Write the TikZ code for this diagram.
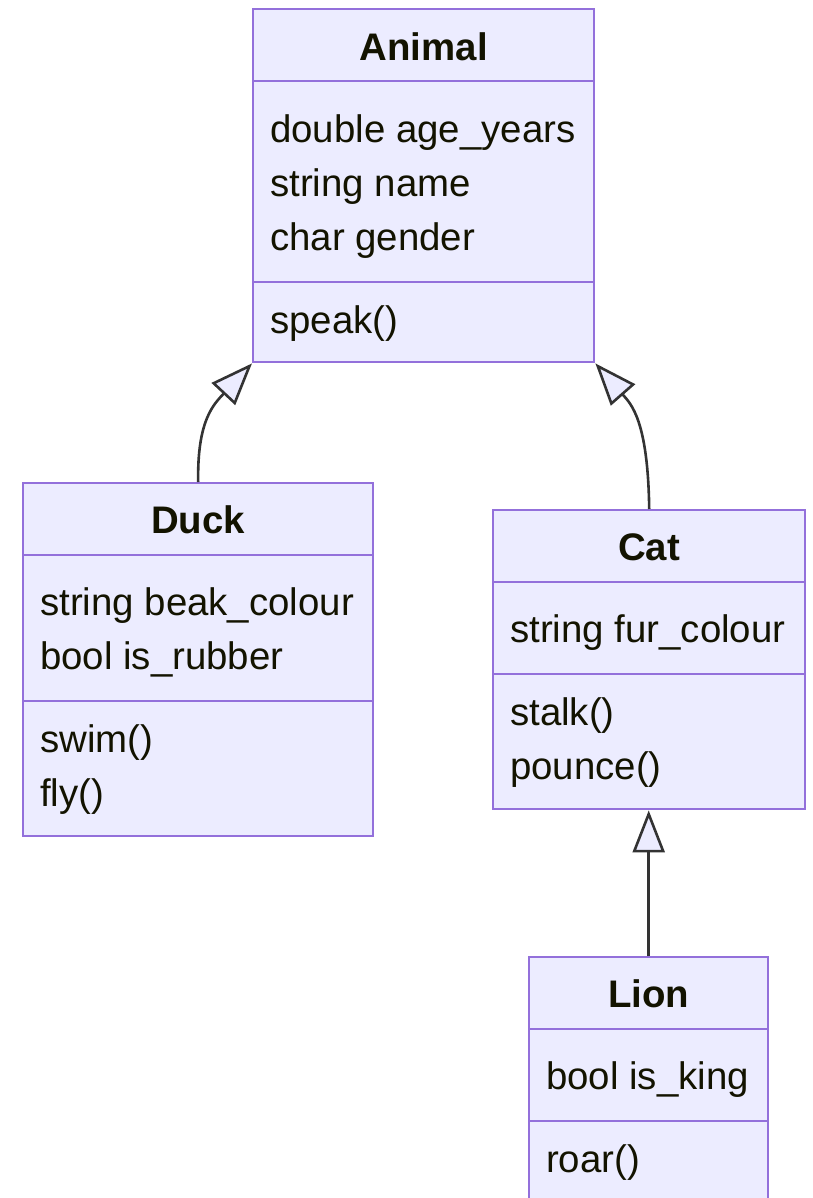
\documentclass[tikz,border=0pt]{standalone}
\usepackage{fontspec}
\setmainfont{Liberation Sans}
\usetikzlibrary{arrows.meta}

\definecolor{boxfill}{HTML}{ECECFF}
\definecolor{boxline}{HTML}{9370DB}
\definecolor{edgeline}{HTML}{333333}
\definecolor{textcol}{HTML}{131300}

\tikzset{
  classbox/.style={draw=boxline, fill=boxfill, line width=2.4pt, rectangle,
    inner sep=0pt, anchor=north west},
  divider/.style={draw=boxline, line width=2.4pt},
  classname/.style={anchor=base, inner sep=0pt, text=textcol,
    font=\fontsize{38.4}{46}\selectfont\bfseries},
  member/.style={anchor=base west, inner sep=0pt, text=textcol,
    font=\fontsize{38.4}{46}\selectfont},
  inherits/.style={draw=edgeline, line width=2.6pt,
    -{Triangle[length=42pt, width=32pt, fill=boxfill]}},
}

\begin{document}
\begin{tikzpicture}[x=1pt, y=-1pt]
\useasboundingbox (0,0) rectangle (812,1198);
\clip (0,0) rectangle (812,1198);

% Animal
\node[classbox, minimum width=341pt, minimum height=353pt] (animal) at (252,8) {};
\draw[divider] (animal.west |- 0,81) -- (animal.east |- 0,81);
\draw[divider] (animal.west |- 0,282) -- (animal.east |- 0,282);
\node[classname] (animal-name) at (animal.north |- 0,61) {Animal};
\node[member] (animal-age) at (270,143) {double age\_years};
\node[member] (animal-nm) at (270,197) {string name};
\node[member] (animal-gender) at (270,251) {char gender};
\node[member] (animal-speak) at (270,333) {speak()};

% Duck
\node[classbox, minimum width=350pt, minimum height=353pt] (duck) at (22,482) {};
\draw[divider] (duck.west |- 0,555) -- (duck.east |- 0,555);
\draw[divider] (duck.west |- 0,701) -- (duck.east |- 0,701);
\node[classname] (duck-name) at (duck.north |- 0,533) {Duck};
\node[member] (duck-beak) at (40,615) {string beak\_colour};
\node[member] (duck-rubber) at (40,669) {bool is\_rubber};
\node[member] (duck-swim) at (40,752) {swim()};
\node[member] (duck-fly) at (40,806) {fly()};

% Cat
\node[classbox, minimum width=312pt, minimum height=299pt] (cat) at (492,509) {};
\draw[divider] (cat.west |- 0,582) -- (cat.east |- 0,582);
\draw[divider] (cat.west |- 0,674) -- (cat.east |- 0,674);
\node[classname] (cat-name) at (cat.north |- 0,560) {Cat};
\node[member] (cat-fur) at (510,642) {string fur\_colour};
\node[member] (cat-stalk) at (510,725) {stalk()};
\node[member] (cat-pounce) at (510,779) {pounce()};

% Lion
\node[classbox, minimum width=239pt, minimum height=244pt] (lion) at (528,956) {};
\draw[divider] (lion.west |- 0,1029) -- (lion.east |- 0,1029);
\draw[divider] (lion.west |- 0,1121) -- (lion.east |- 0,1121);
\node[classname] (lion-name) at (lion.north |- 0,1007) {Lion};
\node[member] (lion-king) at (546,1089) {bool is\_king};
\node[member] (lion-roar) at (546,1172) {roar()};

% Inheritance edges
\draw[inherits] (duck.north) .. controls (197,420) and (214,404) .. (animal.south west);
\draw[inherits] (cat.north) .. controls (648,420) and (631,404) .. (animal.south east);
\draw[inherits] (lion.north) -- (lion.north |- cat.south);
\end{tikzpicture}
\end{document}
